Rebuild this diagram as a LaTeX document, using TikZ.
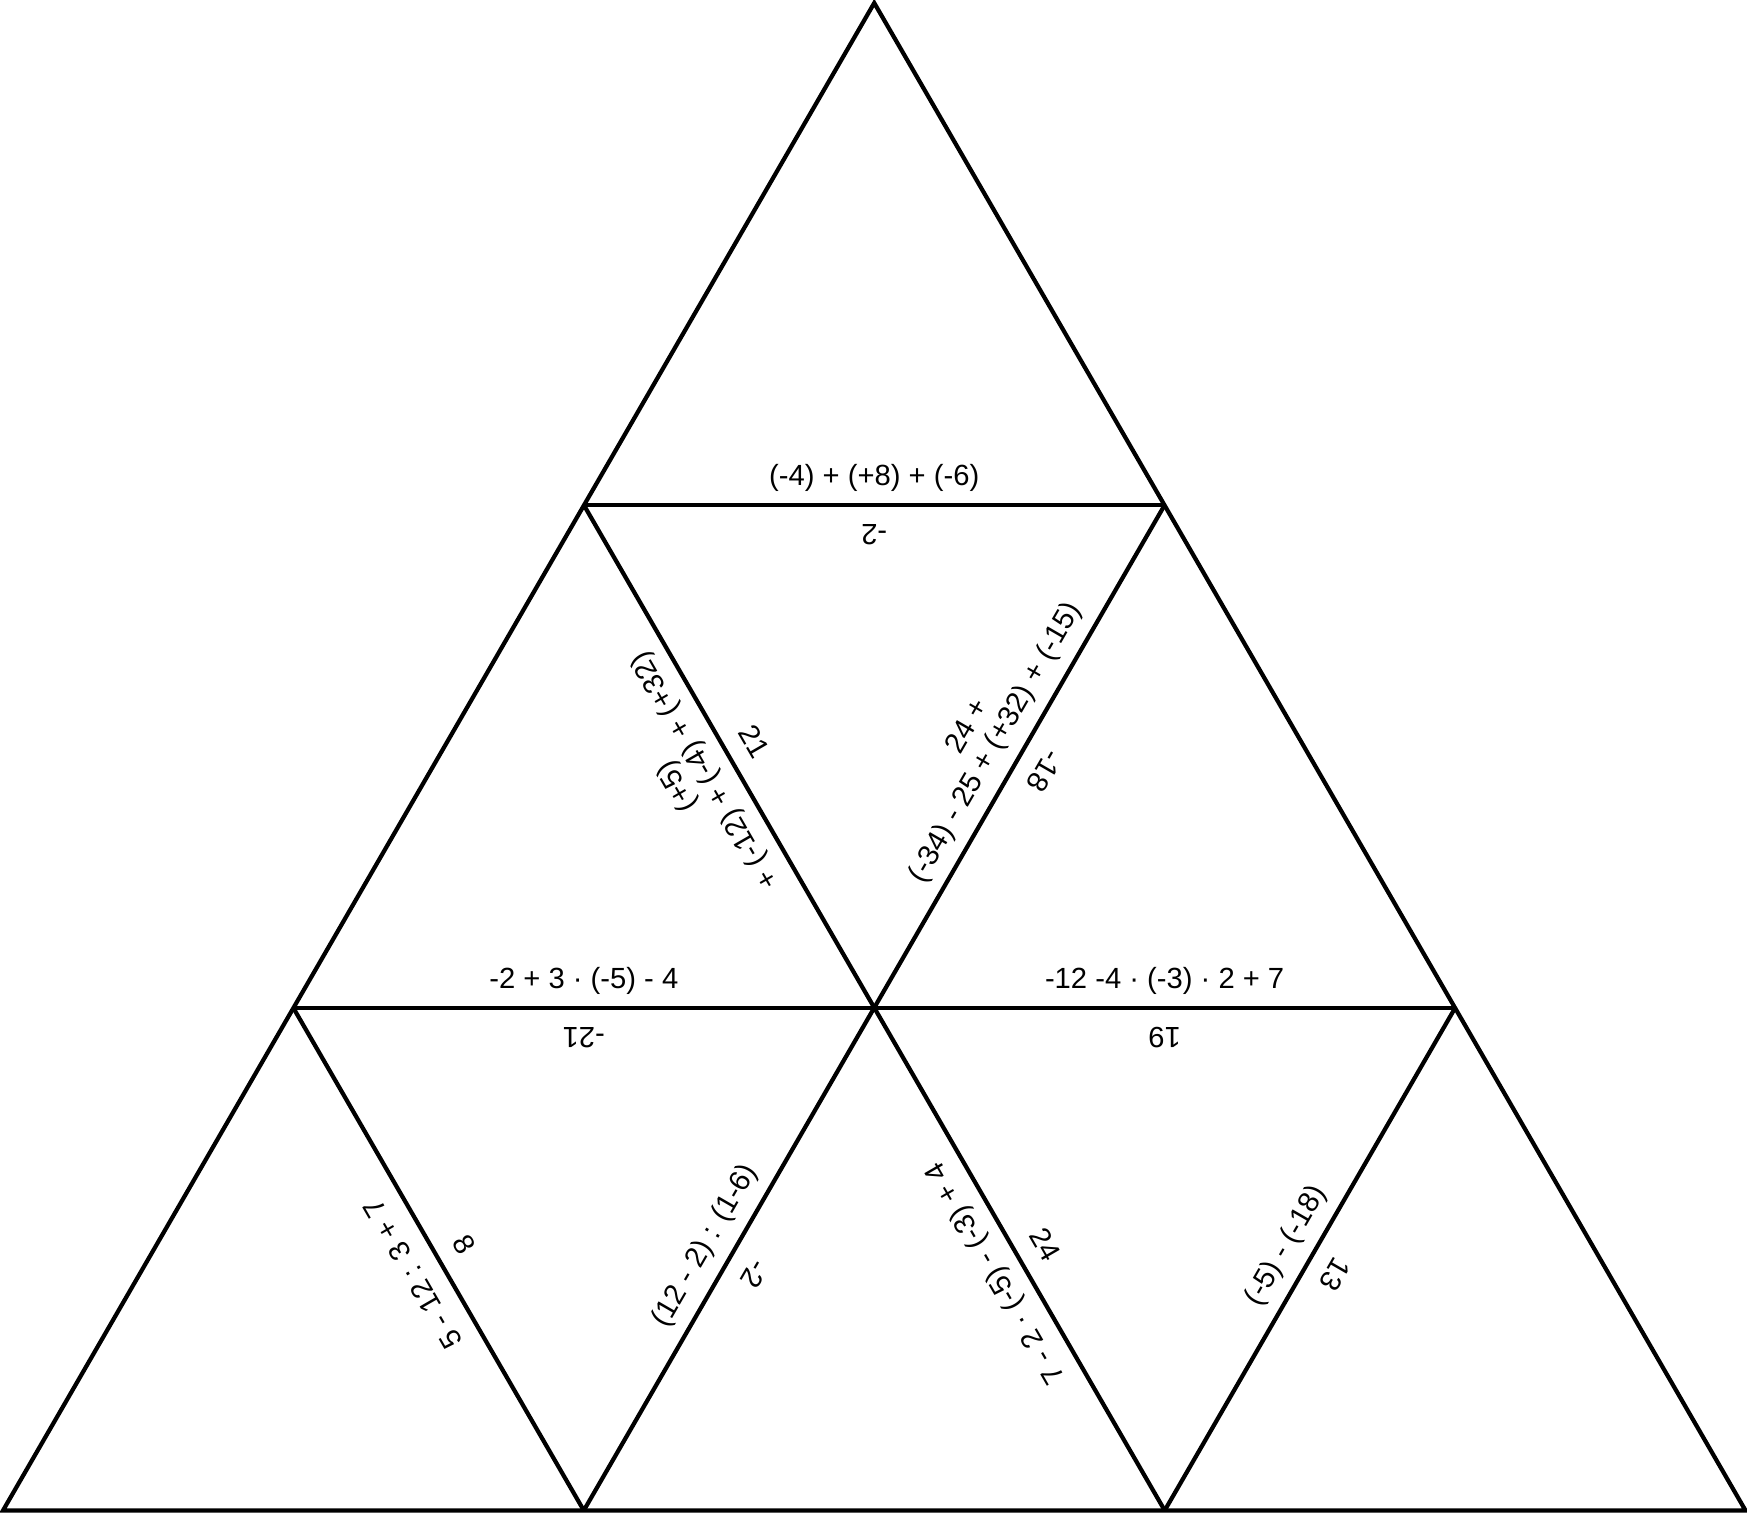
\documentclass[tikz,border=0pt]{standalone}
\usepackage{fontspec}
\setmainfont{Liberation Sans}
\begin{document}
\begin{tikzpicture}[x=0.01cm,y=0.01cm,
  edge/.style={line width=1.2pt, line join=miter},
  lab/.style={font=\fontsize{8.3}{9.1}\selectfont, inner sep=0pt, anchor=base}]
\useasboundingbox (0,0) rectangle (1747,1513);
% vertices
\coordinate (A)  at (874.25,1510);
\coordinate (L1) at (583.8,1008);
\coordinate (R1) at (1164.7,1008);
\coordinate (L2) at (293.4,505);
\coordinate (M2) at (874.25,505);
\coordinate (R2) at (1455.1,505);
\coordinate (B0) at (3,2.5);
\coordinate (B1) at (583.8,2.5);
\coordinate (B2) at (1164.7,2.5);
\coordinate (B3) at (1745.5,2.5);
% edges
\draw[edge] (B0) -- (B3) -- (A) -- cycle;
\draw[edge] (L1) -- (R1);
\draw[edge] (L2) -- (R2);
\draw[edge] (L1) -- (B2);
\draw[edge] (R1) -- (B1);
\draw[edge] (L2) -- (B1);
\draw[edge] (R2) -- (B2);
% row 1 horizontal
\node[lab] (t1a) at (874.25,1027.5) {(-4) + (+8) + (-6)};
\node[lab, rotate=180] (t1b) at (874.25,988.5) {-2};
% edge L1-M2
\node[lab, rotate=120] (t2a) at (712.1,746.75) {+ (-12) + (-4) + (+32)};
\node[lab, rotate=120] (t2c) at (684.4,730.75) {(+5)};
\node[lab, rotate=-60] (t2b) at (745.9,766.25) {21};
% edge R1-M2
\node[lab, rotate=60] (t3a) at (1002.56,766.25) {(-34) - 25 + (+32) + (-15)};
\node[lab, rotate=60] (t3c) at (974.85,782.25) {24 +};
\node[lab, rotate=-120] (t3b) at (1036.34,746.75) {-18};
% row 2 horizontals
\node[lab] (t4a) at (583.8,524.5) {-2 + 3 · (-5) - 4};
\node[lab, rotate=180] (t4b) at (583.8,485.5) {-21};
\node[lab] (t5a) at (1164.65,524.5) {-12 -4 · (-3) · 2 + 7};
\node[lab, rotate=180] (t5b) at (1164.65,485.5) {19};
% edge L2-B1
\node[lab, rotate=120] (t6a) at (421.7,243.75) {5 - 12 : 3 + 7};
\node[lab, rotate=-60] (t6b) at (455.5,263.25) {8};
% edge M2-B1
\node[lab, rotate=60] (t7a) at (712.1,263.25) {(12 - 2) : (1-6)};
\node[lab, rotate=-120] (t7b) at (745.9,243.75) {-2};
% edge M2-B2
\node[lab, rotate=120] (t8a) at (1002.56,243.75) {7 - 2 · (-5) - (-3) + 4};
\node[lab, rotate=-60] (t8b) at (1036.34,263.25) {24};
% edge R2-B2
\node[lab, rotate=60] (t9a) at (1293,263.25) {(-5) - (-18)};
\node[lab, rotate=-120] (t9b) at (1326.8,243.75) {13};
\end{tikzpicture}
\end{document}
